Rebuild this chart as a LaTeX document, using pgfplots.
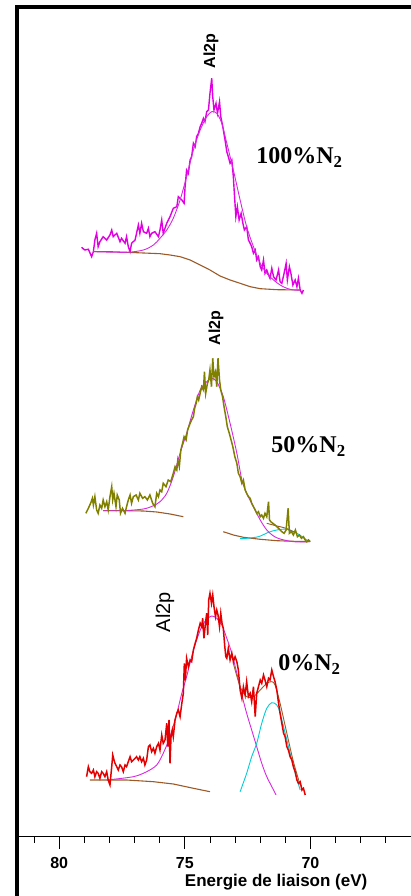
\documentclass[border=0pt]{standalone}
\usepackage{pgfplots}
\pgfplotsset{compat=1.18}
\usepackage{fontspec}
\setmainfont{Liberation Serif}
\newfontfamily\arial{Liberation Sans}
\definecolor{magdata}{RGB}{225,0,225}
\definecolor{magfit}{RGB}{215,40,225}
\definecolor{brownbg}{RGB}{155,90,40}
\definecolor{olivedata}{RGB}{128,128,0}
\definecolor{cyanfit}{RGB}{0,205,215}
\definecolor{reddata}{RGB}{228,0,0}
\begin{document}
\begin{tikzpicture}
\begin{axis}[
  at={(19pt,60pt)}, anchor=south west,
  scale only axis, width=392pt, height=829pt,
  xmin=66, xmax=81.6, x dir=reverse,
  ymin=0, ymax=829,
  axis x line=bottom, axis y line=none,
  x axis line style={-, line width=0.8pt},
  xtick={70,75,80},
  minor xtick={67,68,69,71,72,73,74,76,77,78,79,81},
  major tick length=13pt, minor tick length=7pt, tick align=outside,
  every tick/.style={black, line width=0.9pt},
  /pgf/number format/assume math mode=true,
  xticklabel style={font=\arial\bfseries\fontsize{16}{16}\selectfont, yshift=-5pt},
  xlabel={Energie de liaison (eV)},
  xlabel style={font=\arial\bfseries\fontsize{17}{17}\selectfont, at={(rel axis cs:0.656,0)}, anchor=north, yshift=-35pt},
  clip=false,
]
% ===== 100% N2 =====
\addplot[magdata, line width=1.4pt] table {
79.11 588.7
78.98 586
78.84 586.7
78.71 579.3
78.64 584.3
78.58 596
78.51 602.7
78.45 589.3
78.38 594.3
78.25 599.3
78.11 596
77.98 601
77.91 606
77.85 599.3
77.71 602.7
77.58 594.3
77.52 597.7
77.38 592.7
77.32 599.3
77.25 589.3
77.18 584.3
77.12 592.7
76.98 596
76.85 611
76.79 602.7
76.72 612.7
76.65 604.3
76.52 602.7
76.45 607.7
76.39 599.3
76.32 602.7
76.19 604.3
76.05 599.3
75.99 606
75.92 616
75.86 602.7
75.72 612.7
75.59 619.3
75.46 627.7
75.32 629.3
75.26 639.3
75.12 636
75.03 632.7
74.99 649.3
74.93 666
74.86 662.7
74.79 676
74.73 679.3
74.66 692.7
74.59 689.3
74.53 699.3
74.46 702.7
74.39 709.3
74.33 712.7
74.26 717.7
74.20 714.3
74.13 724.3
74.06 726
74.00 742.7
73.93 757.7
73.89 739.3
73.84 726
73.76 732.7
73.70 722.7
73.62 734.3
73.57 719.3
73.49 709.3
73.40 696
73.33 684.3
73.27 679.3
73.20 672.7
73.13 676
73.07 659.3
73.03 642.7
72.97 619.3
72.91 629.3
72.84 616
72.76 622.7
72.69 612.7
72.63 606
72.54 609.3
72.47 596
72.40 592.7
72.34 589.3
72.27 582.7
72.20 586
72.14 576
72.07 579.3
72.00 569.3
71.94 566
71.87 576
71.81 562.7
71.74 566
71.67 561
71.61 557.7
71.54 567.7
71.47 559.3
71.37 556
71.27 566
71.21 554.3
71.14 552.7
71.05 562.7
70.97 572.7
70.92 556
70.84 569.3
70.78 562.7
70.70 551
70.61 556
70.54 549.3
70.48 557.7
70.41 546
70.34 542.7
70.28 546
};
\addplot[brownbg, line width=1.1pt] table {
78.64 584.3
77.98 584.3
77.32 583.7
76.65 583
75.99 582.3
75.59 581
75.19 579.3
74.79 576
74.39 571
74.00 566
73.60 560
73.20 556
72.80 552.7
72.40 549.3
72.00 547.3
71.34 546.3
70.41 546
};
\addplot[magfit, line width=0.9pt, smooth] table {
78.64 584.3
77.32 583.7
76.65 586
76.25 591
75.99 597.7
75.72 606
75.46 617.7
75.19 636
74.93 659.3
74.66 686
74.39 706
74.13 719.3
73.93 724.3
73.73 722.7
73.53 712.7
73.33 692.7
73.07 666
72.80 636
72.54 609.3
72.27 589.3
72.00 572.7
71.74 562.7
71.47 556
71.21 551
70.94 547.7
70.68 546
70.41 546
};
% ===== 50% N2 =====
\addplot[brownbg, line width=1.1pt] table {
78.25 325.3
77.32 325.3
76.65 325
76.12 324
75.59 322
75.06 319.3
};
\addplot[brownbg, line width=1.1pt] table {
73.47 304.3
73.07 301
72.67 298.7
72.00 296.7
71.34 295.3
70.68 294.7
70.01 294.3
};
\addplot[cyanfit, line width=0.9pt, smooth] table {
72.80 297.3
72.54 297.7
72.07 299.3
71.67 303.7
71.34 306
70.97 306.7
70.54 302.7
70.15 296
70.01 294.7
};
\addplot[magfit, line width=0.9pt, smooth] table {
78.25 325.3
77.45 325.3
76.65 327
76.25 330.3
75.99 334.3
75.72 342.7
75.46 359.3
75.19 382.7
74.93 402.7
74.66 426
74.39 446
74.13 454.3
73.93 457.7
73.73 454.3
73.47 439.3
73.20 412.7
72.93 382.7
72.73 356
72.54 342.7
72.27 329.3
72.00 316
71.74 306
71.47 300
71.21 297
70.68 294.3
70.08 294
};
\addplot[brownbg, line width=0.9pt, smooth] table {
71.74 312.7
71.34 310
70.97 307.7
70.54 302.7
};
\addplot[olivedata, line width=1.5pt] table {
78.94 322.7
78.84 327.7
78.75 332.7
78.68 337.7
78.64 331
78.58 339.3
78.51 326
78.45 322.7
78.38 331
78.31 327.7
78.25 336
78.18 329.3
78.11 334.3
78.05 326
77.98 339.3
77.91 349.3
77.87 336
77.82 342.7
77.74 329.3
77.69 341
77.61 336
77.56 322.7
77.48 327.7
77.38 322.7
77.32 329.3
77.25 336
77.18 341
77.12 332.7
77.05 339.3
76.94 341
76.85 336
76.79 342.7
76.68 337.7
76.59 339.3
76.49 336
76.39 341
76.28 332.7
76.19 329.3
76.12 342.7
76.05 339.3
75.99 346
75.92 344.3
75.86 352.7
75.75 349.3
75.66 356
75.56 354.3
75.46 362.7
75.39 369.3
75.32 366
75.28 376
75.22 369.3
75.16 386
75.09 392.7
75.03 399.3
74.95 396
74.89 406
74.79 412.7
74.73 416
74.66 419.3
74.61 427.7
74.55 432.7
74.50 439.3
74.45 436
74.39 442.7
74.33 449.3
74.26 446
74.22 464.3
74.17 442.7
74.10 452.7
74.05 456
74.00 466
73.94 449.3
73.89 477.7
73.84 459.3
73.78 464.3
73.73 449.3
73.68 477.7
73.62 456
73.57 446
73.50 439.3
73.44 429.3
73.37 419.3
73.31 409.3
73.23 402.7
73.16 396
73.09 389.3
73.01 379.3
72.93 372.7
72.87 362.7
72.80 359.3
72.73 352.7
72.67 356
72.60 346
72.54 342.7
72.47 339.3
72.40 337.7
72.34 332.7
72.27 329.3
72.20 326
72.14 322.7
72.07 324.3
72.00 319.3
71.94 321
71.87 317.7
71.81 322.7
71.74 319.3
71.67 334.3
71.63 316
71.58 314.3
71.50 312.7
71.41 311
71.34 309.3
71.27 307.7
71.21 306
71.14 304.3
71.05 302.7
70.97 306
70.89 327.7
70.84 302.7
70.76 304.3
70.68 301
70.60 306
70.52 299.3
70.44 301
70.36 297.7
70.28 299.3
70.21 296
70.15 294.3
70.08 296
70.01 294.3
};
% ===== 0% N2 =====
\addplot[brownbg, line width=1.1pt] table {
78.78 56
77.32 56
76.25 54.3
75.46 52
74.66 47.7
74.00 44.3
};
\addplot[magfit, line width=0.9pt, smooth] table {
78.11 56
77.05 59.3
76.52 64.3
76.12 71
75.86 82.7
75.59 99.3
75.32 122.7
75.12 142.7
74.93 159.3
74.73 179.3
74.53 196
74.33 209.3
74.13 216.7
73.93 220
73.73 217.7
73.53 211
73.33 197.7
73.13 182.7
72.93 162.7
72.73 141
72.54 122.7
72.34 106
72.14 89.3
71.94 72.7
71.74 59.3
71.47 46
71.37 41
};
\addplot[cyanfit, line width=0.9pt, smooth] table {
72.80 44.3
72.54 62.7
72.34 79.3
72.14 92.7
71.94 112.7
71.74 127.7
71.54 133.3
71.34 131
71.21 122.7
70.94 96
70.68 69.3
70.41 46
};
\addplot[brownbg, line width=0.9pt, smooth] table {
73.07 172.7
72.80 149.3
72.54 139.3
72.27 139.3
72.00 146
71.74 152.7
71.54 154.3
71.41 151
71.21 132.7
70.94 102.7
70.68 74.3
70.41 51
};
\addplot[reddata, line width=1.5pt] table {
78.91 59.3
78.84 69.3
78.78 64.3
78.71 62.7
78.64 66
78.58 59.3
78.51 64.3
78.45 62.7
78.38 57.7
78.31 64.3
78.25 62.7
78.18 59.3
78.11 64.3
78.05 56
77.98 51
77.91 69.3
77.87 81
77.82 76
77.78 72.7
77.71 69.3
77.65 66
77.58 71
77.52 69.3
77.45 64.3
77.38 71
77.32 69.3
77.25 74.3
77.18 79.3
77.12 74.3
77.05 76
76.98 77.7
76.92 79.3
76.85 76
76.79 79.3
76.72 74.3
76.65 77.7
76.59 71
76.52 76
76.45 89.3
76.39 91
76.32 84.3
76.25 87.7
76.19 82.7
76.12 89.3
76.05 92.7
75.99 86
75.92 101
75.86 92.7
75.79 96
75.72 112.7
75.68 89.3
75.63 116
75.59 72.7
75.55 99.3
75.50 106
75.46 99.3
75.39 116
75.32 122.7
75.26 126
75.19 119.3
75.12 132.7
75.06 142.7
75.02 172.7
74.98 156
74.93 177.7
74.86 169.3
74.79 176
74.73 174.3
74.66 186
74.59 192.7
74.53 197.7
74.46 206
74.39 212.7
74.33 209.3
74.29 217.7
74.24 197.7
74.18 212.7
74.13 222.7
74.09 201
74.05 236
74.00 242.7
73.94 232.7
73.89 241
73.84 229.3
73.78 219.3
73.73 226
73.68 221
73.62 209.3
73.57 222.7
73.52 212.7
73.47 207.7
73.41 189.3
73.37 179.3
73.33 177.7
73.27 187.7
73.20 176
73.13 182.7
73.07 174.3
73.00 179.3
72.93 174.3
72.87 166
72.80 146
72.73 137.7
72.67 149.3
72.60 141
72.54 154.3
72.47 139.3
72.40 142.7
72.34 134.3
72.27 149.3
72.20 119.3
72.14 142.7
72.07 149.3
72.00 156
71.94 152.7
71.87 161
71.81 156
71.74 149.3
71.67 157.7
71.61 156
71.54 166
71.47 159.3
71.41 154.3
71.34 146
71.27 132.7
71.21 122.7
71.14 112.7
71.07 102.7
71.01 99.3
70.94 89.3
70.88 86
70.81 79.3
70.74 76
70.68 69.3
70.61 64.3
70.54 56
70.48 52.7
70.41 54.3
70.34 46
70.28 47.7
70.21 41
};
% ===== labels =====
\node[rotate=90, font=\arial\bfseries\fontsize{16}{16}\selectfont] at (axis cs:73.96,785) {Al2p};
\node[rotate=90, font=\arial\bfseries\fontsize{16}{16}\selectfont] at (axis cs:73.76,508) {Al2p};
\node[rotate=90, font=\arial\fontsize{20}{20}\selectfont] at (axis cs:75.79,224) {Al2p};
\node[anchor=base west, inner sep=0pt, font=\bfseries\fontsize{24}{24}\selectfont] at (axis cs:72.16,672) {100\%N\textsubscript{2}};
\node[anchor=base west, inner sep=0pt, font=\bfseries\fontsize{24}{24}\selectfont] at (axis cs:71.56,383) {50\%N\textsubscript{2}};
\node[anchor=base west, inner sep=0pt, font=\bfseries\fontsize{24}{24}\selectfont] at (axis cs:71.29,165) {0\%N\textsubscript{2}};
\end{axis}
\draw[line width=4pt, line join=miter] (17pt,0pt) -- (17pt,889pt) -- (420pt,889pt);
\pgfresetboundingbox
\useasboundingbox (0pt,0pt) rectangle (411pt,896pt);
\end{tikzpicture}
\end{document}
